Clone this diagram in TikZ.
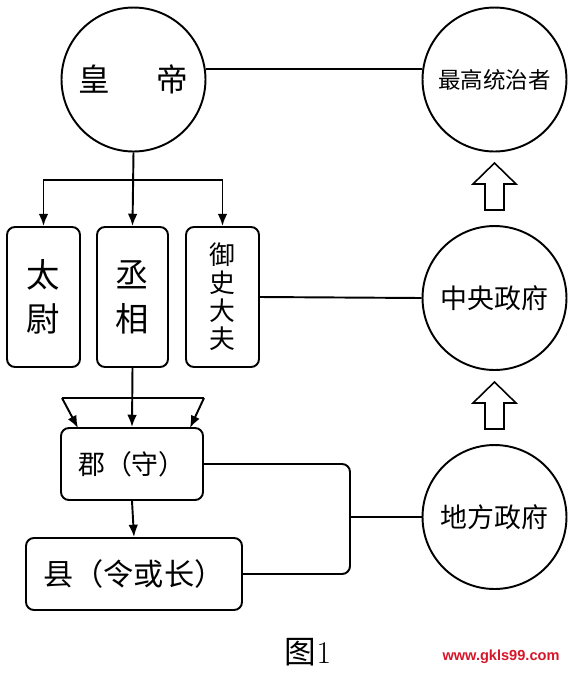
\documentclass[tikz,border=0pt]{standalone}
\usepackage{fontspec}
\usepackage{tikz}
\usetikzlibrary{positioning}
\usetikzlibrary{calc}
\usetikzlibrary{arrows.meta}
\newfontfamily\cjk{Noto Sans CJK SC}
\newfontfamily\wmfont{Liberation Sans}
\definecolor{wmred}{RGB}{215,20,40}

\begin{document}
\begin{tikzpicture}[
    x=0.02cm, y=-0.02cm,
    circ/.style={circle, draw, line width=1.1pt, minimum size=2.88cm, inner sep=0pt, font=\cjk\fontsize{15.3pt}{18pt}\selectfont},
    box/.style={rectangle, draw, line width=1.1pt, rounded corners=4.5pt, align=center, inner sep=0pt, font=\cjk\fontsize{19pt}{25pt}\selectfont},
    hollow/.style={draw, line width=0.9pt, line join=miter},
    link/.style={line width=1.1pt},
    >={Latex[length=7pt,width=5.5pt]}
]
    \useasboundingbox (0,0) rectangle (573,674);

    % circles on the left and right
    \node[circ, font=\cjk\fontsize{18pt}{20pt}\selectfont] (huangdi) at (133.5,79.5) {皇\hspace{1.45em}帝};
    \node[circ, font=\cjk\fontsize{12.8pt}{15pt}\selectfont] (zuigao) at (494.5,79.5) {最高统治者};
    \node[circ] (zhongyang) at (494.5,298) {中央政府};
    \node[circ] (difang) at (494.5,517) {地方政府};

    % central offices
    \node[box, minimum width=1.46cm, minimum height=2.8cm] (taiwei) at (43.5,297) {太\\尉};
    \node[box, minimum width=1.42cm, minimum height=2.8cm] (chengxiang) at (132.5,297) {丞\\相};
    \node[box, minimum width=1.46cm, minimum height=2.8cm, font=\cjk\fontsize{14.7pt}{15.9pt}\selectfont] (yushi) at (222.5,297) {御\\史\\大\\夫};

    % local offices
    \node[box, minimum width=2.84cm, minimum height=1.44cm, font=\cjk\fontsize{15.3pt}{18pt}\selectfont] (jun) at (132,464) {郡（守）};
    \node[box, minimum width=4.32cm, minimum height=1.44cm, font=\cjk\fontsize{17.2pt}{20pt}\selectfont] (xian) at (134,574) {县（令或长）};

    % tips of the upward hollow arrows
    \coordinate (up1) at (494.5,163);
    \coordinate (up2) at (494.5,382);
    \draw[hollow] (up1) -- ++(21.5,21) -- ++(-12,0) -- ++(0,26) -- ++(-19,0) -- ++(0,-26) -- ++(-12,0) -- cycle;
    \draw[hollow] (up2) -- ++(21.5,21) -- ++(-12,0) -- ++(0,26) -- ++(-19,0) -- ++(0,-26) -- ++(-12,0) -- cycle;

    \coordinate (fork) at (133.5,180);
    \coordinate (tl) at (62,398);
    \coordinate (tr) at (204,398);
    \coordinate (jl) at (78,428);
    \coordinate (jr) at (190,428);
    \coordinate (bk) at (350,517);

    \draw[link] (huangdi.8) -- (zuigao.172);
    \draw[link, ->] (huangdi.south) -- (chengxiang.north);
    \draw[link, ->] (fork) -| (taiwei.north);
    \draw[link, ->] (fork) -| (yushi.north);
    \draw[link] (yushi.east) -- (zhongyang.west);

    \draw[link, ->] (chengxiang.south) -- (jun.north);
    \draw[link] (tl) -- (tr);
    \draw[link, ->] (tl) -- (jl);
    \draw[link, ->] (tr) -- (jr);
    \draw[link, ->] (jun.south) -- (xian.north);

    \draw[link, rounded corners=4.5pt] (jun.east) -| (bk) |- (xian.east);
    \draw[link] (bk) -- (difang.west);

    \node[font=\fontsize{18pt}{20pt}\selectfont] (caption) at (308,652) {{\cjk 图}1};
    \node[font=\wmfont\bfseries\fontsize{8.3pt}{10pt}\selectfont, text=wmred] (site) at (501,657) {www.gkls99.com};
\end{tikzpicture}
\end{document}
